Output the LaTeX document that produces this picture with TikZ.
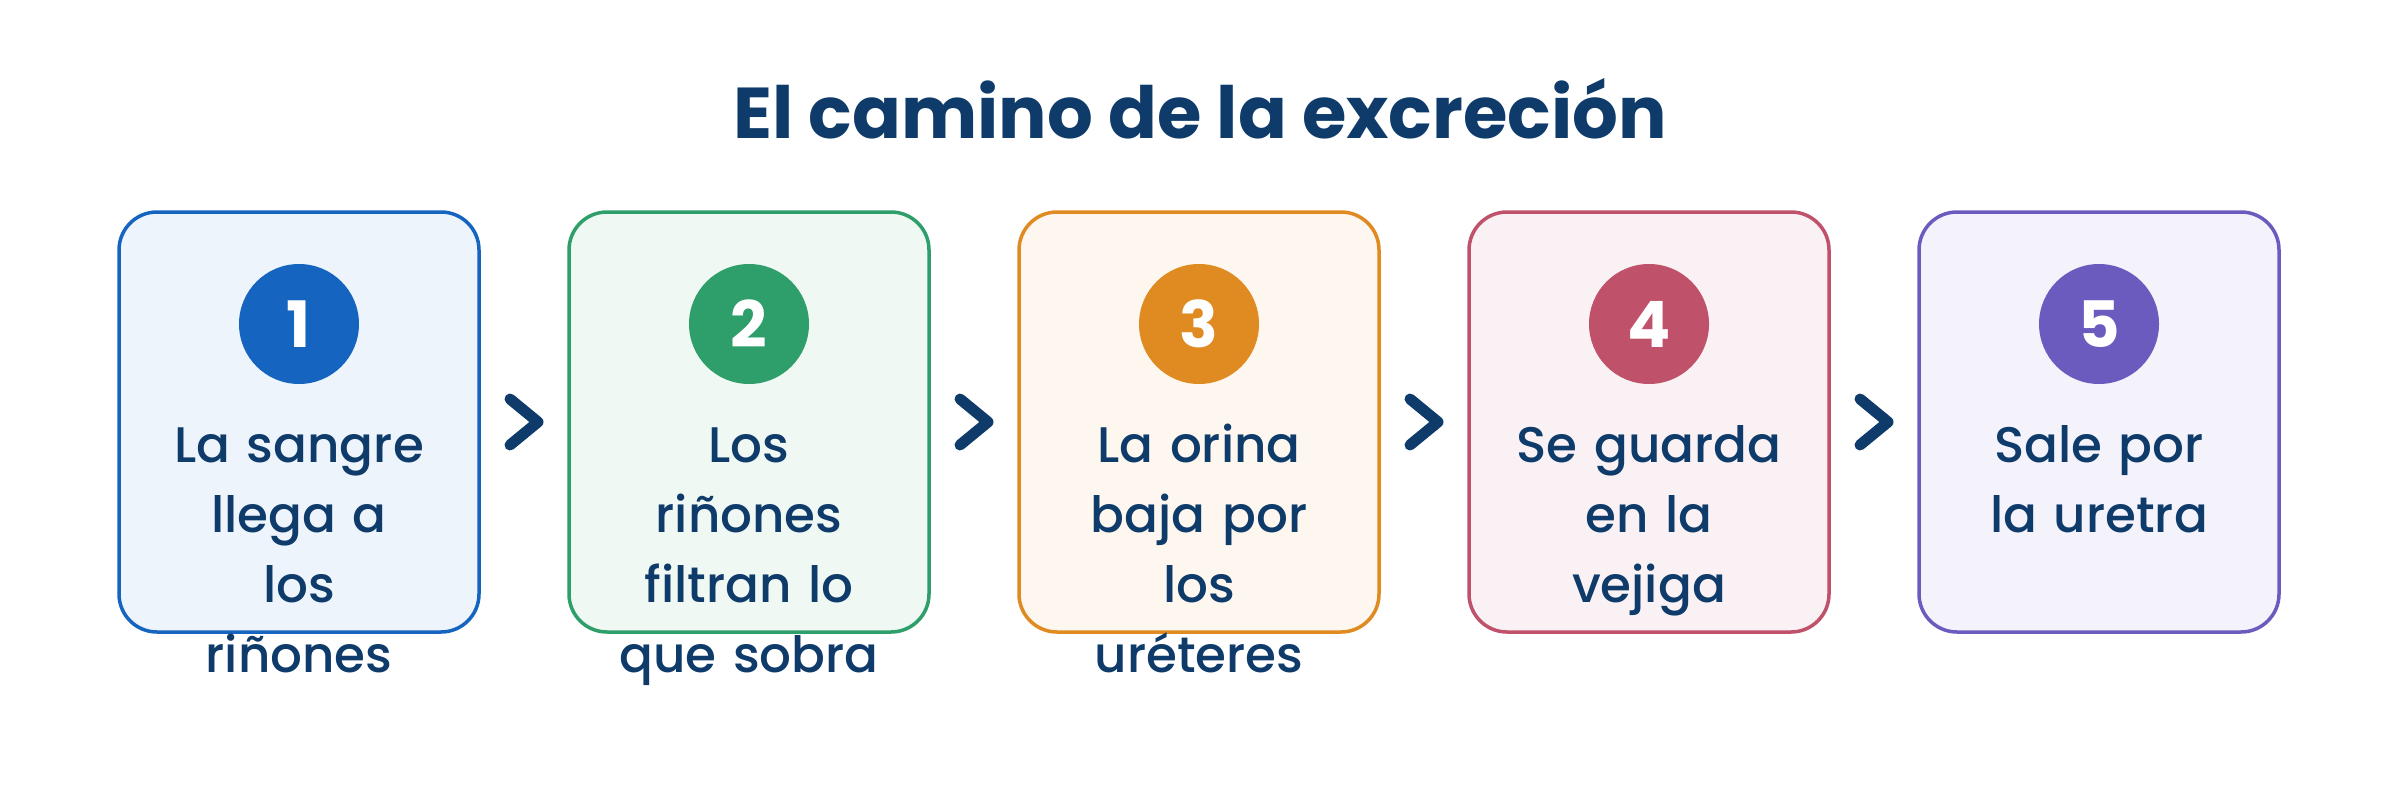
\documentclass[tikz,border=0pt]{standalone}
\usepackage{fontspec}
\setmainfont{Poppins}[UprightFont={* Medium},BoldFont={* Bold}]
\usetikzlibrary{calc}
\definecolor{navy}{HTML}{0E3B6A}
\definecolor{cA}{HTML}{1565C0}\definecolor{fA}{HTML}{EEF4FC}
\definecolor{cB}{HTML}{2E9E6A}\definecolor{fB}{HTML}{EFF8F3}
\definecolor{cC}{HTML}{E08A22}\definecolor{fC}{HTML}{FDF7EF}
\definecolor{cD}{HTML}{C0516A}\definecolor{fD}{HTML}{F9F1F4}
\definecolor{cE}{HTML}{6C5BBE}\definecolor{fE}{HTML}{F4F3FC}
\tikzset{
  card/.style={draw=#1, line width=3.5pt, rounded corners=38pt, minimum width=360pt, minimum height=420pt, inner sep=0pt},
  badge/.style={circle, fill=#1, minimum size=120pt, inner sep=0pt, text=white, font={\bfseries\fontsize{64}{64}\selectfont}},
  txt/.style={anchor=base, text width=360pt, align=center, inner sep=0pt, text=navy, font={\fontsize{50}{70}\selectfont}},
  chev/.style={draw=navy, line width=11pt, line cap=round, line join=round},
  title/.style={anchor=base, inner sep=0pt, text=navy, font={\bfseries\fontsize{72}{76}\selectfont}}
}
\begin{document}
\begin{tikzpicture}[x=1pt,y=-1pt]
\useasboundingbox[fill=white] (0,0) rectangle (2400,792);
\node[title] (title) at (1200,138) {El camino de la excreción};
\foreach \i/\cx/\c/\f/\n in {1/299/cA/fA/1, 2/749/cB/fB/2, 3/1199/cC/fC/3, 4/1649/cD/fD/4, 5/2099/cE/fE/5}{
  \node[card=\c, fill=\f] (b\i) at (\cx,422) {};
  \node[badge=\c] (n\i) at (\cx,324) {\n};
}
\node[txt] (t1) at (299,462) {La sangre\\llega a\\los\\riñones};
\node[txt] (t2) at (749,462) {Los\\riñones\\filtran lo\\que sobra};
\node[txt] (t3) at (1199,462) {La orina\\baja por\\los\\uréteres};
\node[txt] (t4) at (1649,462) {Se guarda\\en la\\vejiga};
\node[txt] (t5) at (2099,462) {Sale por\\la uretra};
\foreach \a/\b in {1/2,2/3,3/4,4/5}{
  \coordinate (m\a) at ($(b\a.east)!0.5!(b\b.west)$);
  \draw[chev] ($(m\a)+(-14,-23)$) -- ($(m\a)+(14,0)$) -- ($(m\a)+(-14,23)$);
}
\end{tikzpicture}
\end{document}
